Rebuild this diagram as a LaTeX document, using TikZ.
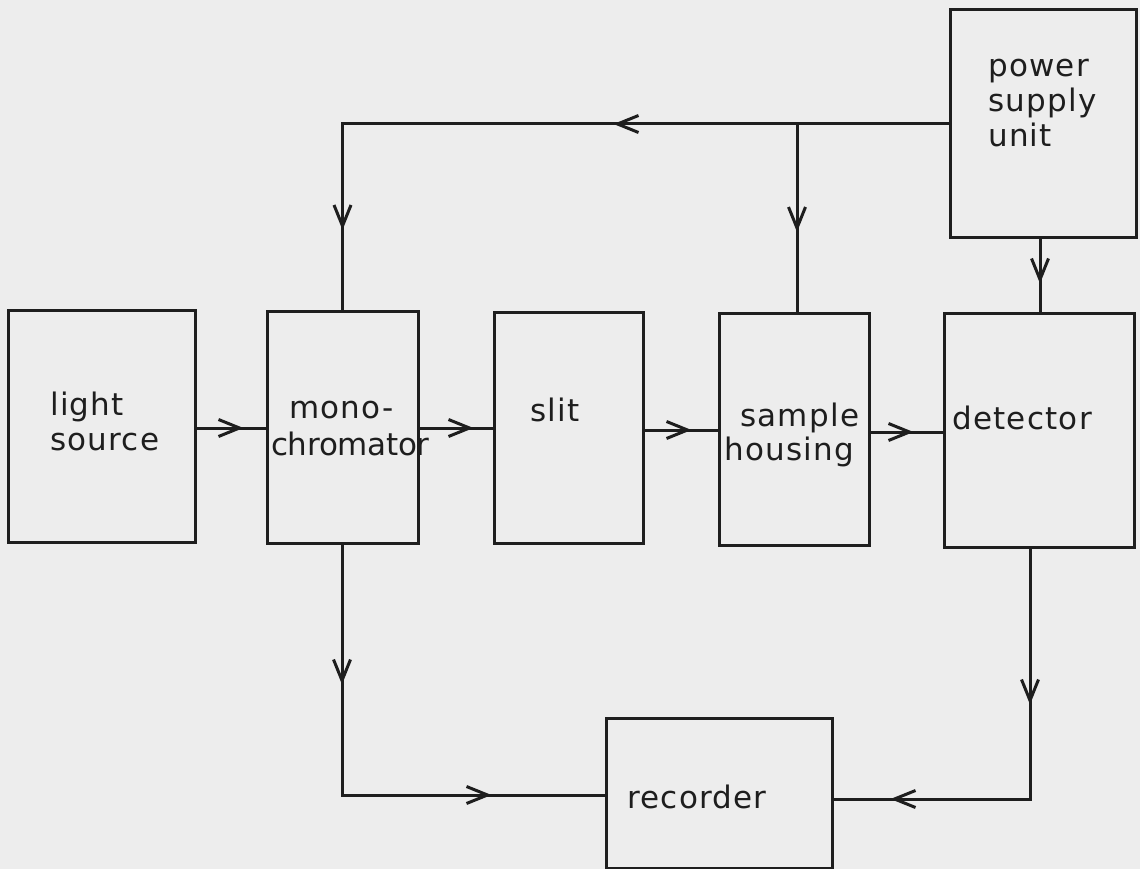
\documentclass[tikz,border=0pt]{standalone}
\usepackage{fontspec}
\setmainfont{DejaVu Sans}[LetterSpace=4]
\usetikzlibrary{arrows.meta,decorations.markings}
\definecolor{bg}{HTML}{EDEDED}
\definecolor{ink}{HTML}{1E1E1E}
\tikzset{
  blk/.style={draw=ink,line width=3pt,minimum width=#1,inner sep=0pt},
  txt/.style={text=ink,font=\fontsize{31}{35}\selectfont,align=left,inner sep=0pt},
  wire/.style={draw=ink,line width=3pt},
  tipat/.style={postaction={decorate},decoration={markings,
    mark=at position #1 with {\arrow[ink,line width=3pt]{Straight Barb[length=21pt,width=17pt]}}}},
  tiptwo/.style 2 args={postaction={decorate},decoration={markings,
    mark=at position #1 with {\arrow[ink,line width=3pt]{Straight Barb[length=21pt,width=17pt]}},
    mark=at position #2 with {\arrow[ink,line width=3pt]{Straight Barb[length=21pt,width=17pt]}}}}
}
\begin{document}
\begin{tikzpicture}[x=1pt,y=-1pt]
\fill[bg] (0,0) rectangle (1140,869);
\useasboundingbox (0,0) rectangle (1140,869);
% boxes
\node[blk=187pt,minimum height=232pt] (ls) at (101.5,426) {};
\node[blk=151pt,minimum height=232pt] (mono) at (342.5,427) {};
\node[blk=149pt,minimum height=231pt] (slit) at (568.5,427.5) {};
\node[blk=150pt,minimum height=232pt] (samp) at (794,429) {};
\node[blk=190pt,minimum height=234pt] (det) at (1039,430) {};
\node[blk=186pt,minimum height=227pt] (psu) at (1043,123.5) {};
\node[blk=226pt,minimum height=150pt] (rec) at (719,793) {};
% texts
\node[txt,anchor=west] (lsT) at (50,421) {light\\source};
\node[txt,anchor=west] (monoT) at (289,410) {mono-};
\node[txt,anchor=west] (monoT2) at (271,444) {\addfontfeature{LetterSpace=-1}chromator};
\node[txt,anchor=west] (slitT) at (530,410) {slit};
\node[txt,anchor=west] (sampT) at (740,418) {sample};
\node[txt,anchor=west] (sampT2) at (724,452) {housing};
\node[txt,anchor=west] (detT) at (952,418) {detector};
\node[txt,anchor=west] (psuT) at (988,103) {power\\supply\\unit};
\node[txt,anchor=west] (recT) at (627,797) {recorder};
% junction coordinates
\coordinate (top) at (0,124);
\coordinate (brx) at (797,0);
\coordinate (mbot) at (342,0);
\coordinate (dbot) at (1030,0);
\coordinate (psx) at (1040,0);
\coordinate (low) at (0,795);
\coordinate (lowr) at (0,799);
% horizontal chain
\draw[wire,tipat=47pt] (ls.east |- 0,428) -- (mono.west |- 0,428);
\draw[wire,tipat=54pt] (mono.east |- 0,428) -- (slit.west |- 0,428);
\draw[wire,tipat=47pt] (slit.east |- 0,430) -- (samp.west |- 0,430);
\draw[wire,tipat=43pt] (samp.east |- 0,432) -- (det.west |- 0,432);
% power supply lines
\draw[wire,tiptwo={335pt}{712pt}] (psu.west |- top) -- (top -| mono.north) -- (mono.north);
\draw[wire,tipat=108pt] (top -| brx) -- (brx |- samp.north);
\draw[wire,tipat=45pt] (psx |- psu.south) -- (psx |- det.north);
% to recorder
\draw[wire,tiptwo={140pt}{400pt}] (mbot |- mono.south) -- (mbot |- low) -- (low -| rec.west);
\draw[wire,tiptwo={156pt}{390pt}] (dbot |- det.south) -- (dbot |- lowr) -- (lowr -| rec.east);
\end{tikzpicture}
\end{document}
